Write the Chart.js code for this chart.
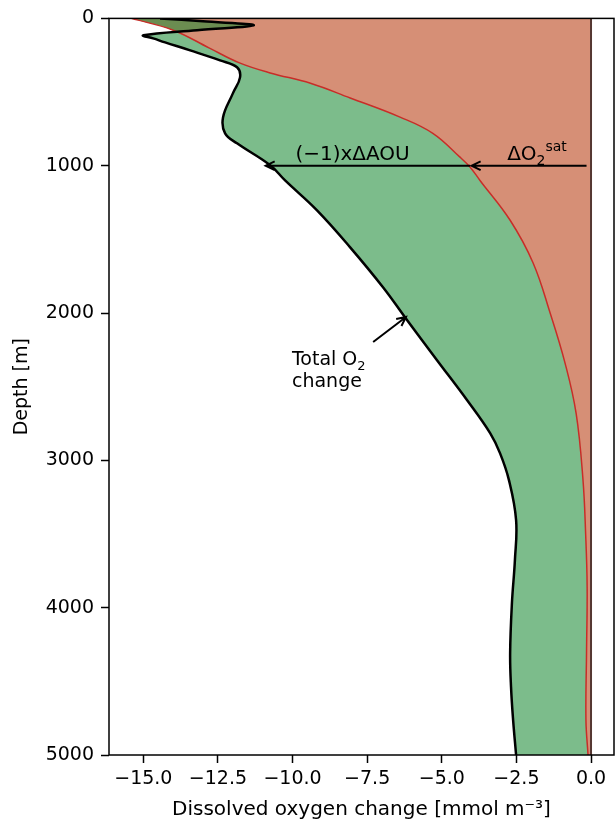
<!DOCTYPE html>
<html>
<head>
<meta charset="utf-8">
<script src="https://cdn.jsdelivr.net/npm/chart.js@4.4.0/dist/chart.umd.min.js"></script>
<style>
  html, body { margin: 0; padding: 0; background: #fff; }
  canvas { display: block; }
</style>
</head>
<body>
<canvas id="o2chart" width="615" height="823"></canvas>
<script>
// profiles: depth in m, change in mmol m-3
const satDepth = [0, 80, 200, 300, 370, 440, 540, 670, 780, 940, 1010, 1100, 1370, 1660, 2000, 2340, 2680, 3130, 3500, 3860, 4300, 4760, 5000];
const satValue = [-15.4, -14.0, -12.8, -11.8, -10.75, -9.4, -8.07, -6.4, -5.3, -4.4, -4.05, -3.72, -2.71, -1.94, -1.37, -0.87, -0.5, -0.27, -0.18, -0.13, -0.15, -0.17, -0.10];

const totalDepth = [0, 20, 47, 80, 115, 136, 163, 217, 285, 332, 400, 509, 672, 780, 848, 997, 1100, 1303, 1554, 1825, 2049, 2320, 2592, 2815, 2951, 3134, 3406, 3677, 3969, 4308, 4539, 4763, 5000];
const totalValue = [-14.44, -13.0, -11.3, -13.2, -15.0, -14.67, -14.27, -13.43, -12.43, -11.86, -11.76, -12.0, -12.33, -12.26, -11.86, -10.75, -10.25, -9.18, -8.07, -6.97, -6.16, -5.16, -4.15, -3.38, -3.05, -2.75, -2.51, -2.55, -2.65, -2.71, -2.68, -2.61, -2.51];

const zeroDepth = [0, 5000];
const zeroValue = [0, 0];

const xTicks = [-15, -12.5, -10, -7.5, -5, -2.5, 0];
const yTicks = [0, 1000, 2000, 3000, 4000, 5000];

const FONT = "'DejaVu Sans', sans-serif";
const pts = (d, v) => d.map((y, i) => ({ x: v[i], y: y }));
const minus = s => s.replace('-', '\u2212');

// text runs: [text, size, baseline shift]
function drawRuns(ctx, runs, x, y, align) {
    let w = 0;
    runs.forEach(r => { ctx.font = r[1] + 'px ' + FONT; w += ctx.measureText(r[0]).width; });
    let cx = align === 'center' ? x - w / 2 : x;
    ctx.textAlign = 'left';
    ctx.textBaseline = 'alphabetic';
    runs.forEach(r => {
        ctx.font = r[1] + 'px ' + FONT;
        ctx.fillText(r[0], cx, y + r[2]);
        cx += ctx.measureText(r[0]).width;
    });
}

function arrow(ctx, x0, y0, x1, y1) {
    const ang = Math.atan2(y1 - y0, x1 - x0);
    const L = 10, s = 0.45;
    ctx.beginPath();
    ctx.moveTo(x0, y0);
    ctx.lineTo(x1, y1);
    ctx.moveTo(x1 - L * Math.cos(ang - s), y1 - L * Math.sin(ang - s));
    ctx.lineTo(x1, y1);
    ctx.lineTo(x1 - L * Math.cos(ang + s), y1 - L * Math.sin(ang + s));
    ctx.stroke();
}

const annotations = {
    id: 'annotations',
    afterDraw(chart) {
        const { ctx, chartArea: a, scales: { x, y } } = chart;
        const px = v => x.getPixelForValue(v);
        const py = d => y.getPixelForValue(d);
        ctx.save();
        ctx.strokeStyle = '#000';
        ctx.lineWidth = 1.5;
        ctx.strokeRect(a.left, a.top, a.right - a.left, a.bottom - a.top);

        ctx.lineWidth = 2;
        arrow(ctx, px(-4.05), py(1000), px(-10.9), py(1000));
        arrow(ctx, px(-0.15), py(1000), px(-4.0), py(1000));
        arrow(ctx, px(-7.3), py(2197), px(-6.2), py(2027));

        ctx.fillStyle = '#000';
        drawRuns(ctx, [['(\u22121)x\u0394AOU', 20, 0]], px(-7.99), py(963), 'center');
        drawRuns(ctx, [['\u0394O', 20, 0], ['2', 14, 5], ['sat', 14, -9]], px(-1.81), py(963), 'center');
        drawRuns(ctx, [['Total O', 19, 0], ['2', 13, 5]], px(-10.02), py(2354), 'left');
        drawRuns(ctx, [['change', 19, 0]], px(-10.02), py(2503), 'left');
        ctx.restore();
    }
};

new Chart(document.getElementById('o2chart').getContext('2d'), {
    type: 'line',
    data: {
        datasets: [{
            label: 'Total O2 change',
            data: pts(totalDepth, totalValue),
            borderColor: '#000',
            borderWidth: 2.5,
            backgroundColor: 'rgba(30,140,55,0.58)',
            fill: 1,
            order: 0
        }, {
            label: 'O2sat',
            data: pts(satDepth, satValue),
            borderColor: 'rgb(200,45,40)',
            borderWidth: 1.5,
            backgroundColor: 'rgb(214,143,118)',
            fill: 'origin',
            order: 1
        }, {
            label: 'zero',
            data: pts(zeroDepth, zeroValue),
            borderColor: 'rgb(85,55,50)',
            borderWidth: 2,
            fill: false,
            order: 2
        }]
    },
    options: {
        responsive: false,
        animation: false,
        indexAxis: 'y',
        layout: { padding: { top: 18, right: 1, left: 0, bottom: 0 } },
        elements: {
            point: { radius: 0 },
            line: { tension: 0.4 }
        },
        plugins: {
            legend: { display: false },
            tooltip: { enabled: false },
            filler: { drawTime: 'beforeDatasetsDraw' }
        },
        scales: {
            x: {
                type: 'linear',
                min: -16.15,
                max: 0.77,
                afterFit: s => { s.height = 68; },
                afterBuildTicks: s => { s.ticks = xTicks.map(v => ({ value: v })); },
                border: { display: false },
                grid: { drawOnChartArea: false, tickLength: 8, tickWidth: 1.5, tickColor: '#000' },
                ticks: {
                    color: '#000',
                    font: { family: FONT, size: 19 },
                    padding: 5,
                    maxRotation: 0,
                    callback: v => minus(v.toFixed(1))
                },
                title: {
                    display: true,
                    text: 'Dissolved oxygen change [mmol m\u207b\u00b3]',
                    color: '#000',
                    font: { family: FONT, size: 20 },
                    padding: { top: 0, bottom: 1 }
                }
            },
            y: {
                type: 'linear',
                reverse: true,
                min: 0,
                max: 5000,
                afterFit: s => { s.width = 109; },
                afterBuildTicks: s => { s.ticks = yTicks.map(v => ({ value: v })); },
                border: { display: false },
                grid: { drawOnChartArea: false, tickLength: 8, tickWidth: 1.5, tickColor: '#000' },
                ticks: {
                    color: '#000',
                    font: { family: FONT, size: 19 },
                    padding: 7,
                    callback: v => String(v)
                },
                title: {
                    display: true,
                    text: 'Depth [m]',
                    color: '#000',
                    font: { family: FONT, size: 19 },
                    padding: { top: 11, bottom: 0 }
                }
            }
        }
    },
    plugins: [annotations]
});
</script>
</body>
</html>
